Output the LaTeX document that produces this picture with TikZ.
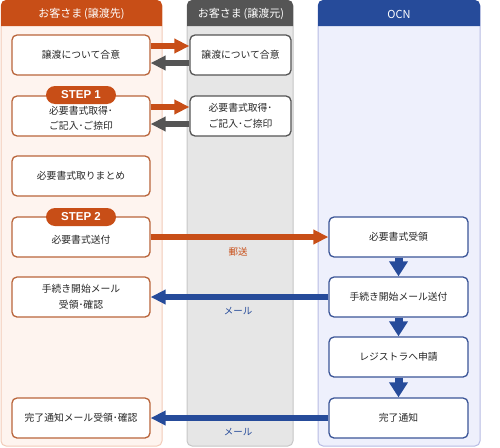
\documentclass[tikz,border=0pt]{standalone}
\usepackage{fontspec}
\setmainfont{Noto Sans CJK JP}
\newfontfamily\stepfont{Liberation Sans}
\usetikzlibrary{arrows.meta}
\definecolor{ocol}{HTML}{C84E17}
\definecolor{obord}{HTML}{B9653B}
\definecolor{peach}{HTML}{FEF4EF}
\definecolor{peachb}{HTML}{F2CBB8}
\definecolor{ghead}{HTML}{555555}
\definecolor{gbody}{HTML}{E6E6E6}
\definecolor{gbord}{HTML}{C6C6C6}
\definecolor{bhead}{HTML}{264B9A}
\definecolor{bbody}{HTML}{EEF0FC}
\definecolor{bbord}{HTML}{B7BBE3}
\definecolor{bbox}{HTML}{3B5597}
\definecolor{txt}{HTML}{262626}
\begin{document}
\begin{tikzpicture}[x=1pt,y=-1pt,
  boxbase/.style={rectangle, rounded corners=5pt, fill=white, line width=1.3pt,
    minimum height=40pt, inner sep=0pt, align=center, text=txt,
    font=\fontsize{9.8}{15.5}\selectfont},
  lbox/.style={boxbase, draw=obord, minimum width=138pt},
  mbox/.style={boxbase, draw=ghead, minimum width=101pt},
  rbox/.style={boxbase, draw=bbox, minimum width=139pt},
  plaintxt/.style={align=center, text=txt, inner sep=0pt, font=\fontsize{9.8}{15.5}\selectfont},
  headtxt/.style={text=white, font=\fontsize{11}{12}\selectfont},
  badge/.style={rectangle, rounded corners=9pt, fill=ocol, minimum width=70pt,
    minimum height=18pt, inner sep=0pt, text=white, font=\stepfont\bfseries\fontsize{11.5}{12}\selectfont},
  harrow/.style={line width=6pt, -{Triangle[length=15pt,width=14pt]}},
  varrow/.style={line width=8pt, draw=bhead, -{Triangle[length=15pt,width=18pt]}},
  lbl/.style={font=\fontsize{9.5}{11}\selectfont}
]
\useasboundingbox (0,0) rectangle (500,447);
% columns
\path[fill=peach, draw=peachb, line width=1pt, rounded corners=5pt] (1,1) rectangle (162,446);
\fill[ocol] (1,26) [rounded corners=5pt] -- (1,0) -- (162,0) [sharp corners] -- (162,26) -- cycle;
\path[fill=gbody, draw=gbord, line width=1pt, rounded corners=5pt] (187,1) rectangle (293,446);
\fill[ghead] (187,26) [rounded corners=5pt] -- (187,0) -- (293,0) [sharp corners] -- (293,26) -- cycle;
\path[fill=bbody, draw=bbord, line width=1pt, rounded corners=5pt] (318,1) rectangle (480,446);
\fill[bhead] (318,26) [rounded corners=5pt] -- (318,0) -- (480,0) [sharp corners] -- (480,26) -- cycle;
\node[headtxt] (h1) at (81.5,14) {お客さま\,(譲渡先)};
\node[headtxt] (h2) at (241,14) {お客さま\,(譲渡元)};
\node[headtxt] (h3) at (399,14) {OCN};
% left boxes
\node[lbox] (b1) at (81,55) {譲渡について合意};
\node[lbox] (b2) at (81,116) {};
\node[plaintxt] (b2t) at (81,118.5) {必要書式取得･\\ご記入･ご捺印};
\node[lbox] (b3) at (81,176) {必要書式取りまとめ};
\node[lbox] (b4) at (81,237) {};
\node[plaintxt] (b4t) at (81,240) {必要書式送付};
\node[lbox] (b5) at (81,297) {手続き開始メール\\受領･確認};
\node[lbox] (b6) at (81,418) {完了通知メール受領･確認};
\node[badge] (s1) at (81,95) {STEP 1};
\node[badge] (s2) at (81,217) {STEP 2};
% middle boxes
\node[mbox] (m1) at (240.5,55) {譲渡について合意};
\node[mbox] (m2) at (240.5,116) {必要書式取得･\\ご記入･ご捺印};
% right boxes
\node[rbox] (r1) at (398.5,237) {必要書式受領};
\node[rbox] (r2) at (398.5,297) {手続き開始メール送付};
\node[rbox] (r3) at (398.5,357) {レジストラへ申請};
\node[rbox] (r4) at (398.5,418) {完了通知};
% arrows
\draw[harrow, draw=ocol] ([yshift=9pt]b1.east) -- ([yshift=9pt]m1.west);
\draw[harrow, draw=ghead] ([yshift=-8pt]m1.west) -- ([yshift=-8pt]b1.east);
\draw[harrow, draw=ocol] ([yshift=9pt]b2.east) -- ([yshift=9pt]m2.west);
\draw[harrow, draw=ghead] ([yshift=-8pt]m2.west) -- ([yshift=-8pt]b2.east);
\draw[harrow, draw=ocol] (b4.east) -- (r1.west);
\draw[harrow, draw=bhead] (r2.west) -- (b5.east);
\draw[harrow, draw=bhead] (r4.west) -- (b6.east);
\draw[varrow] (r1.south) -- (r2.north);
\draw[varrow] (r2.south) -- (r3.north);
\draw[varrow] (r3.south) -- (r4.north);
\node[lbl, text=ocol] (l1) at (238,252) {郵送};
\node[lbl, text=bhead] (l2) at (238,311) {メール};
\node[lbl, text=bhead] (l3) at (238,432) {メール};
\end{tikzpicture}
\end{document}
